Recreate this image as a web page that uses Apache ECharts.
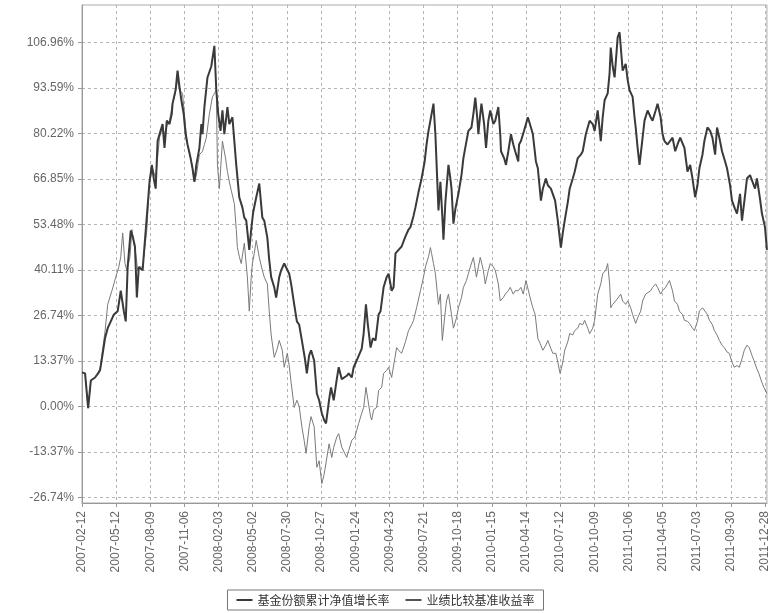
<!DOCTYPE html>
<html><head><meta charset="utf-8">
<script src="https://cdn.jsdelivr.net/npm/echarts@6/dist/echarts.min.js"></script>
<style>html,body{margin:0;padding:0;background:#fff}#c{width:771px;height:613px}</style>
</head><body><div id="c"></div>
<script>
const seriesNames = ['基金份额累计净值增长率', '业绩比较基准收益率'];
const tickLabels = ['2007-02-12','2007-05-12','2007-08-09','2007-11-06','2008-02-03','2008-05-02','2008-07-30','2008-10-27','2009-01-24','2009-04-23','2009-07-21','2009-10-18','2010-01-15','2010-04-14','2010-07-12','2010-10-09','2011-01-06','2011-04-05','2011-07-03','2011-09-30','2011-12-28'];
const yTicks = [-26.74, -13.37, 0, 13.37, 26.74, 40.11, 53.48, 66.85, 80.22, 93.59, 106.96];

// days since 2007-02-12
const fundDays = [0,8,16,23,34,42,47,54,60,67,
75,83,93,101,109,114,119,127,132,138,
143,148,158,166,176,182,187,192,197,202,
210,215,221,228,234,236,244,249,254,259,
265,270,275,283,288,293,298,306,311,314,
319,327,337,345,350,355,361,366,371,379,
384,392,397,402,410,418,423,428,436,441,
446,454,462,470,475,483,488,493,501,506,
514,519,527,532,540,545,553,560,566,573,
581,586,592,597,605,612,618,625,631,636,
644,649,656,664,669,677,682,690,695,703,
708,716,721,729,734,740,745,752,758,765,
773,778,786,794,799,807,812,817,825,833,
843,851,856,864,869,877,885,893,898,903,
908,916,921,926,929,934,939,942,947,955,
960,963,968,973,981,989,994,1002,1007,1015,
1020,1025,1030,1033,1038,1041,1048,1053,1059,1064,
1072,1077,1085,1090,1092,1100,1105,1111,1118,1124,
1129,1137,1139,1144,1152,1162,1170,1175,1183,1188,
1196,1201,1209,1214,1222,1233,1240,1248,1253,1258,
1266,1271,1279,1284,1292,1300,1305,1313,1318,1323,
1331,1336,1344,1352,1357,1362,1370,1375,1378,1383,
1388,1393,1396,1401,1406,1409,1417,1422,1427,1435,
1440,1443,1448,1453,1461,1466,1474,1482,1487,1495,
1500,1508,1513,1518,1526,1531,1539,1546,1552,1559,
1570,1578,1585,1591,1598,1604,1609,1617,1622,1630,
1637,1643,1650,1655,1661,1668,1676,1681,1689,1694,
1702,1707,1715,1720,1728,1733,1741,1746,1754,1759,
1767,1772,1780,1785];
const fundValues = [10,9.7,-0.5,7.6,8.5,9.7,10.6,15.6,20,23,
25,27,28,34,28,25,41,51.7,50,47,
32,41,40,51.7,66,71,67,64,78,80,
83,76,84,83,86,89,93,98.7,94,90,
86,80,77,73,70,66,71,76,83,80,
88,96.7,100,106,93,86,81,87,80,88,
83,85,78,71,61.4,58.5,55.5,54.7,46,52,
57,61.4,65.5,55.5,54.6,49.6,43,38,35,32,
38,40,42,42,39,36,30,25,24,19.4,
14,9.7,15,16.5,13.5,3.8,1.8,-2,-4,-5,
2,5.6,1.8,8,11.5,8,7.6,9,9.7,8.5,
11.5,13.5,13.5,17,21.4,30,24,17.3,20,19.4,
27,28,35,38,39,34,35,45,46,47,
50,52,52.7,56,58.5,63,67,72,77,81,
84,89,80,66,57.6,66,56,49,60,71,
67,64,53.7,58,62.5,68,73,78,81,82,
86,90.8,85,80,86,89,83,76,84,87,
83,84,88,80,75,73,71,75,80,77,
75,72,77,78,81,85,82,80,72,70,
60.5,64,67,65,64,60.5,54.6,46.7,51,54.6,
60,64,67,69,73,74,75,80,82,84,
83,81,87,78,85,90,92,98,105.5,100,
96.7,104,108.5,110,103,98.7,100.7,96,93,91,
85,82,76,71,79,84,87,85,84,87,
89,85,80,78,77,77,79,75,77,79,
76,69,71,67,61.5,65,70,74,78,82,
81,79,74,82,79,75,72,70,65,60.5,
58,56.7,62.5,54.6,62,67,68,68.5,64,67,
61,56.7,52.7,46];

const benchDays = [0,8,16,23,34,42,47,54,60,67,
78,88,96,101,106,112,117,125,130,135,
140,145,150,158,169,176,184,192,202,210,
215,223,228,236,241,249,254,262,270,275,
283,288,293,298,306,314,319,324,332,340,
350,353,358,366,374,379,384,389,397,402,
405,410,415,423,431,436,441,444,449,454,
462,470,475,483,488,493,501,509,514,522,
527,535,540,545,553,560,566,573,579,584,
592,597,605,612,618,625,631,636,644,651,
656,664,669,677,682,690,695,703,711,716,
721,729,734,740,745,752,755,760,768,773,
781,786,794,799,807,812,820,825,833,843,
851,859,864,872,882,890,895,903,908,911,
916,921,929,934,939,945,950,955,963,968,
976,981,989,994,1002,1007,1012,1020,1028,1033,
1038,1046,1051,1059,1064,1072,1077,1085,1090,1098,
1103,1111,1116,1124,1129,1137,1144,1150,1157,1162,
1170,1175,1181,1183,1188,1194,1201,1209,1214,1222,
1227,1235,1240,1246,1253,1258,1266,1271,1279,1284,
1292,1297,1305,1310,1318,1323,1331,1336,1344,1352,
1357,1365,1370,1375,1378,1383,1391,1396,1404,1409,
1417,1422,1430,1435,1443,1448,1456,1461,1469,1474,
1482,1487,1495,1500,1508,1513,1521,1526,1531,1539,
1544,1552,1557,1565,1570,1578,1583,1591,1596,1604,
1609,1617,1622,1630,1635,1643,1648,1655,1661,1668,
1674,1681,1687,1694,1700,1707,1713,1720,1726,1733,
1739,1746,1751,1759,1764,1772,1777,1785];
const benchValues = [10,9.7,-0.5,7.6,8.5,10,11,17,22,30,
34,38,41,44,51,42,40,44,52,48,
45,40,41,41,52,66,70,67,79,82,
80,83,84,89,91,96,93,92,82,77,
73,70,66,68,74,75,77,79,86,91,
93,71,64,78,73,69,66,63.5,59.6,52,
46.7,44,42,48,38,28,38,42,45,48.8,
43.8,40,38,36,28,21,14.4,17,19.4,16.5,
11.5,15.6,12,7,-0.3,1.8,0,-6,-10,-13.8,
-6,-3,-6,-17.9,-16,-22.7,-20,-20.5,-11,-15,
-12,-9,-8,-12,-12,-15,-13,-10,-9,-7,
-5,-2,-0.3,5.6,2,-3,-4,-1,-0.3,4.7,
5.6,9.7,10.6,11.5,8.5,8.5,17.3,16.5,15.6,19,
22.3,24,25.3,29,34,38,41,44,46.7,45,
42,39,30,33,19.4,26,31,33,27,23,
26,29,32,35,37,39,41,43.8,38,41,
43.8,40,36,40,42,41,40,36,31,32,
33,34,35,33,34,34,35,33,37,37,
31,29,27,25,20,18.5,16.5,18,19.4,17,
15.6,15.6,13,9.7,13,16.5,19,21.4,21,22.3,
23,24.4,24,25.3,23,21.4,23,25.3,33,36,
39,40,42,36,29,30,31,31,33,31,
30,31,29,27,24.4,26,28,31,33,33,
34,35,36,35,33,34,35,36,37,34,
31,30,28,27,25.3,25,24.4,23,22.3,25,
28,29,29,27,25.3,24,22.3,21,19.4,18,
17.3,16,15.6,13,11.5,12,11.5,14,16.5,18,
17.3,15,13.5,11,9.7,7,5.6,3.8];

const DAY = 86400000;
const t0 = Date.parse(tickLabels[0]);
const xTicks = tickLabels.map(s => Math.round((Date.parse(s) - t0) / DAY));
const labelByDay = {};
xTicks.forEach((d, i) => { labelByDay[d] = tickLabels[i]; });

const chart = echarts.init(document.getElementById('c'));
const gridLine = { show: true, lineStyle: { color: '#b5b5b5', type: [3, 3], width: 1 } };
chart.setOption({
  animation: false,
  backgroundColor: '#fff',
  grid: { left: 82, right: 1, top: 5, bottom: 110, show: true, borderColor: '#aaa', borderWidth: 1 },
  legend: {
    data: seriesNames, bottom: 3, left: 'center', icon: 'rect', itemWidth: 16, itemHeight: 2,
    itemGap: 16, borderColor: '#777', borderWidth: 1, padding: [4, 9],
    textStyle: { fontSize: 12, color: '#333', fontFamily: 'Noto Sans CJK SC' }
  },
  xAxis: {
    type: 'value', min: 0, max: 1785, interval: 89,
    axisLine: { show: true, onZero: false, lineStyle: { color: '#999' } },
    axisTick: { show: true, customValues: xTicks, length: 4, lineStyle: { color: '#999' } },
    axisLabel: { customValues: xTicks, rotate: 90, margin: 8, fontSize: 12, color: '#666',
      fontFamily: 'Liberation Sans', formatter: v => labelByDay[Math.round(v)] || '' },
    splitLine: gridLine
  },
  yAxis: {
    type: 'value', min: -28.4, max: 118,
    axisLine: { show: true, lineStyle: { color: '#999' } },
    axisTick: { show: true, customValues: yTicks, length: 4, lineStyle: { color: '#999' } },
    axisLabel: { customValues: yTicks, margin: 8, fontSize: 12, color: '#666',
      fontFamily: 'Liberation Sans', formatter: v => v.toFixed(2) + '%' },
    splitLine: gridLine
  },
  series: [
    { name: seriesNames[0], type: 'line', showSymbol: false, z: 3,
      data: fundDays.map((d, i) => [d, fundValues[i]]),
      lineStyle: { color: '#3a3a3a', width: 2 }, itemStyle: { color: '#3a3a3a' } },
    { name: seriesNames[1], type: 'line', showSymbol: false, z: 2,
      data: benchDays.map((d, i) => [d, benchValues[i]]),
      lineStyle: { color: '#7a7a7a', width: 1 }, itemStyle: { color: '#555' } }
  ]
});
</script></body></html>
